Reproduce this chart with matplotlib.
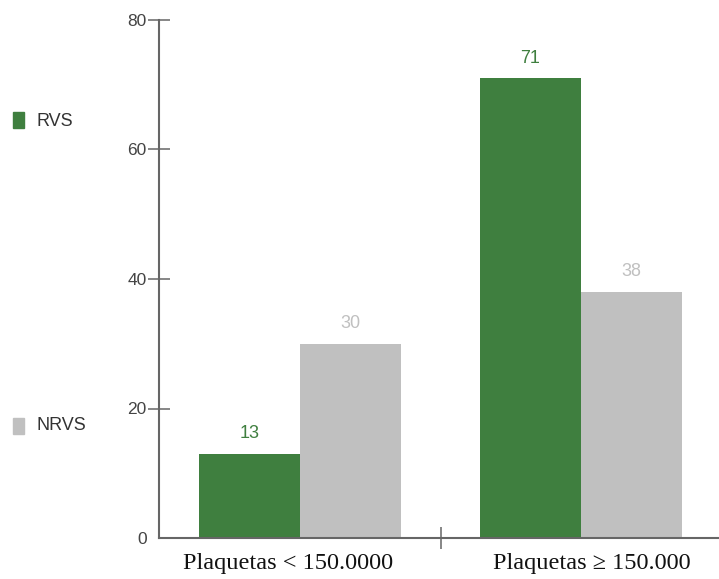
import matplotlib
matplotlib.use("Agg")
import matplotlib.pyplot as plt
import numpy as np

categories = ["Plaquetas < 150.0000", "Plaquetas \u2265 150.000"]
series_names = ["RVS", "NRVS"]
rvs = [13, 71]
nrvs = [30, 38]
y_ticks = [0, 20, 40, 60, 80]

green = "#3f7f3f"
gray = "#c0c0c0"
axis_col = "#666666"

fig = plt.figure(figsize=(7.19, 5.79), dpi=100)
W, H = 719, 579
ax = fig.add_axes([159 / W, (H - 538) / H, 1 - 159 / W, (538 - 20) / H])

x = np.arange(len(categories))
bw = 0.36
b1 = ax.bar(x - bw / 2, rvs, bw, color=green, label=series_names[0])
b2 = ax.bar(x + bw / 2, nrvs, bw, color=gray, label=series_names[1])

for bars, vals, col in ((b1, rvs, green), (b2, nrvs, gray)):
    for rect, v in zip(bars, vals):
        ax.annotate(f"{v}", (rect.get_x() + rect.get_width() / 2, v),
                    xytext=(0, 20), textcoords="offset pixels",
                    ha="center", va="center", color=col, fontsize=13,
                    family="Liberation Sans")

ax.set_xlim(-0.502, 1.491)
ax.set_ylim(0, 80)

for s in ["top", "right"]:
    ax.spines[s].set_visible(False)
for s in ["left", "bottom"]:
    ax.spines[s].set_color(axis_col)
    ax.spines[s].set_linewidth(1.5)

# y axis: ticks straddle the axis line, none at zero
ax.set_yticks(y_ticks)
ax.set_yticklabels([str(t) for t in y_ticks], color="#444444", fontsize=12.5,
                   family="Liberation Sans")
ax.tick_params(axis="y", direction="inout", length=16, width=1.1,
               color=axis_col, pad=1)
for t in ax.yaxis.get_major_ticks():
    if t.get_loc() == 0:
        t.tick1line.set_visible(False)

# x axis: one separator tick between the groups, labels under each group
ax.set_xticks([0.5])
ax.set_xticklabels([""])
ax.tick_params(axis="x", direction="inout", length=16, width=1.1,
               color=axis_col)
label_shift = [-12, 11]
for xi, lab, dx in zip(x, categories, label_shift):
    ax.annotate(lab, (xi, 0), xytext=(dx, -25), textcoords="offset pixels",
                ha="center", va="center", fontsize=17.5,
                family="Liberation Serif", color="#111111",
                annotation_clip=False)

# legend on the left margin
fig.patches.append(plt.Rectangle((13 / W, (H - 128) / H), 11 / W, 16 / H,
                                 transform=fig.transFigure, color=green))
fig.text(36 / W, (H - 121) / H, series_names[0], va="center", fontsize=13,
         family="Liberation Sans", color="#333333")
fig.patches.append(plt.Rectangle((13 / W, (H - 434) / H), 11 / W, 16 / H,
                                 transform=fig.transFigure, color=gray))
fig.text(36 / W, (H - 426) / H, series_names[1], va="center", fontsize=13,
         family="Liberation Sans", color="#333333")

fig.savefig("out.png", dpi=100)
